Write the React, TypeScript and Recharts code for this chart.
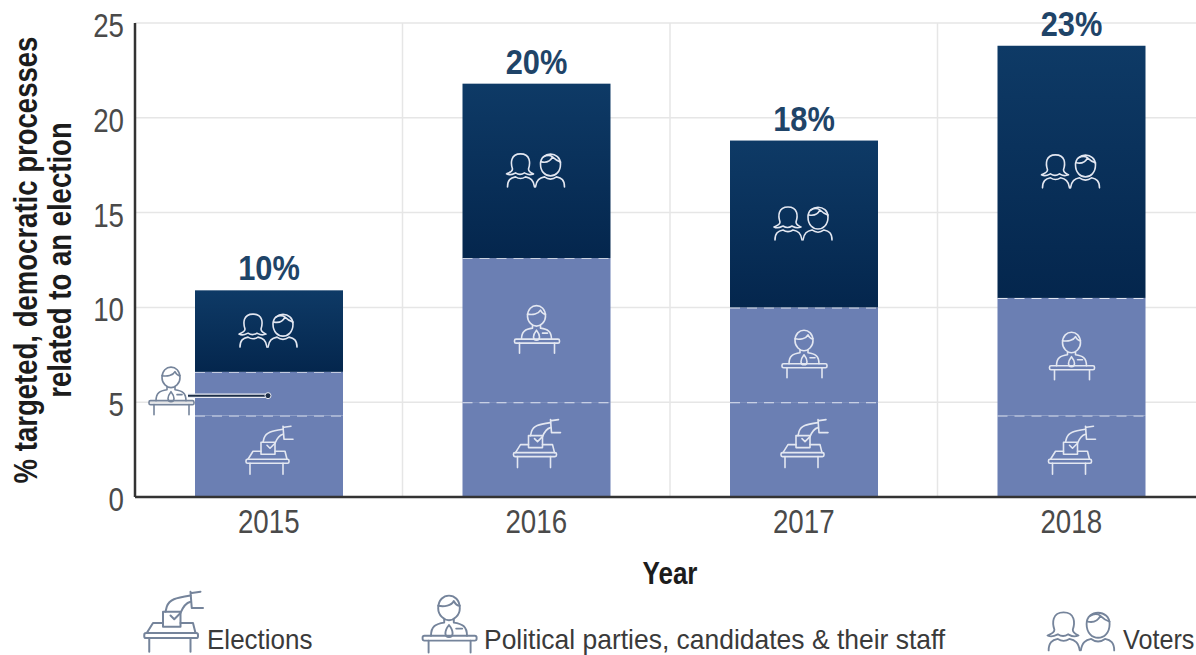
import React from "react";
import { BarChart, Bar, XAxis, YAxis, CartesianGrid, LabelList, Legend } from "recharts";

const years = ["2015", "2016", "2017", "2018"];
const elections = [4.3, 5, 5, 4.3];
const parties = [2.3, 7.6, 5, 6.2];
const voters = [4.3, 9.2, 8.8, 13.3];
const totals = ["10%", "20%", "18%", "23%"];
const yTicks = [0, 5, 10, 15, 20, 25];
const seriesNames = ["Elections", "Political parties, candidates & their staff", "Voters"];

const data = years.map((year, i) => ({
  year,
  elections: elections[i],
  parties: parties[i],
  voters: voters[i],
  total: totals[i],
}));

const FONT = "'Liberation Sans', Arial, sans-serif";
const NARROW = 0.84;
const LIGHT = "#6b7fb3";
const ICON_ON_BAR = "#e3e7f1";
const ICON_LEGEND = "#75849b";

type IconProps = { x: number; y: number; color: string; scale?: number };

function VotersIcon({ x, y, color, scale = 1 }: IconProps) {
  return (
    <g transform={`translate(${x},${y}) scale(${scale})`} fill="none" stroke={color} strokeWidth={1.6} strokeLinecap="round" strokeLinejoin="round">
      <path d="M-24,-2 C-26,-8 -26,-17 -16,-17 C-6,-17 -6,-8 -8,-2 C-8,1 -5,2 -3,3 C-8,5 -10,3 -12,2 C-15,4 -18,4 -21,2 C-23,3 -26,5 -30,3 C-28,2 -24,1 -24,-2 Z" />
      <path d="M-29,16 C-29,9 -26,7 -21,6 C-18,8 -14,8 -11,6 C-6,7 -3,9 -2,16" />
      <path d="M4,-7 C4,-20 24,-20 24,-7 C24,1 19,5 14,5 C9,5 4,1 4,-7 Z" />
      <path d="M5,-9 C10,-8 14,-10 16,-14 C19,-11 21,-10 24,-9 M7,-14 C10,-16 14,-16 16,-14" />
      <path d="M-1,16 C0,9 3,7 8,6 C12,9 16,9 20,6 C25,7 28,9 28,16" />
    </g>
  );
}

function PartyIcon({ x, y, color, scale = 1 }: IconProps) {
  return (
    <g transform={`translate(${x},${y}) scale(${scale})`} fill="none" stroke={color} strokeWidth={1.6} strokeLinecap="round" strokeLinejoin="round">
      <path d="M-9,-14 C-9,-28 9,-28 9,-14 C9,-8 4,-4 0,-4 C-4,-4 -9,-8 -9,-14 Z" />
      <path d="M-9,-16 C-4,-15 2,-16 4,-20 C5,-18 7,-16 9,-16" />
      <path d="M-4,-5 L-4,-2 C-11,-1 -15,1 -15,9 M4,-5 L4,-2 C11,-1 15,1 15,9" />
      <path d="M0,0 C-4,5 -4,10 0,10 C4,10 4,5 0,0 Z" />
      <path d="M6,3 L11,3" />
      <rect x={-22} y={9} width={45} height={4} rx={1.5} />
      <path d="M-17,13 L-17,23 M18,13 L18,23" />
    </g>
  );
}

function ElectionIcon({ x, y, color, scale = 1 }: IconProps) {
  return (
    <g transform={`translate(${x},${y}) scale(${scale})`} fill="none" stroke={color} strokeWidth={1.6} strokeLinecap="round" strokeLinejoin="round">
      <rect x={-23} y={8} width={43} height={4} rx={1.5} />
      <path d="M-21,8 L-16,0 L-8,0 M6,0 L16,0 L18,8" />
      <path d="M-19,12 L-19,23 M14,12 L14,23" />
      <path d="M-8,3 L-8,-9 L6,-9 L6,3 Z" />
      <path d="M-6,-9 L-5,-13 C-3,-19 2,-20 14,-22 M14,-17 C10,-16 8,-13 6,-8 L1,-3 L-2,-6" />
      <path d="M14,-25 L15,-12 M15,-24 L22,-25 M15,-12 L24,-12" />
    </g>
  );
}

function ElectionBar(props: any) {
  const { x, y, width, height } = props;
  const cx = x + width / 2;
  return (
    <g>
      <rect x={x} y={y} width={width} height={height} fill={LIGHT} />
      <line x1={x} x2={x + width} y1={y} y2={y} stroke="#dfe4f0" strokeWidth={2} strokeDasharray="10 7" />
      <ElectionIcon x={cx} y={y + height / 2 - 5} color={ICON_ON_BAR} />
    </g>
  );
}

function PartyBar(props: any) {
  const { x, y, width, height } = props;
  const cx = x + width / 2;
  const cy = y + height / 2;
  const fitsInside = height > 60;
  return (
    <g>
      <rect x={x} y={y} width={width} height={height} fill={LIGHT} />
      <line x1={x} x2={x + width} y1={y} y2={y} stroke="#dfe4f0" strokeWidth={2} strokeDasharray="10 7" />
      {fitsInside ? (
        <PartyIcon x={cx} y={cy} color={ICON_ON_BAR} />
      ) : (
        <g>
          <PartyIcon x={x - 24} y={cy - 2} color={ICON_LEGEND} />
          <line x1={x - 7} x2={cx} y1={cy + 2} y2={cy + 2} stroke="#e8ebf3" strokeWidth={4.5} />
          <line x1={x - 7} x2={cx} y1={cy + 2} y2={cy + 2} stroke="#1d2f48" strokeWidth={2} />
          <circle cx={cx - 1} cy={cy + 2} r={3} fill="#1d2f48" stroke="#e8ebf3" strokeWidth={1} />
        </g>
      )}
    </g>
  );
}

function VoterBar(props: any) {
  const { x, y, width, height } = props;
  return (
    <g>
      <rect x={x} y={y} width={width} height={height} fill="url(#voterFill)" />
      <VotersIcon x={x + width / 2} y={y + height / 2} color={ICON_ON_BAR} />
    </g>
  );
}

function NarrowText({ x, y, size, sx = NARROW, weight = 400, fill, anchor = "middle", children }: any) {
  return (
    <text
      transform={`translate(${x},${y}) scale(${sx},1)`}
      textAnchor={anchor}
      fontFamily={FONT}
      fontSize={size}
      fontWeight={weight}
      fill={fill}
    >
      {children}
    </text>
  );
}

function XTick({ x, payload }: any) {
  return <NarrowText x={x} y={533} size={33} fill="#4a4a4a">{payload.value}</NarrowText>;
}

function YTick({ x, y, payload }: any) {
  return <NarrowText x={124} y={y + 14} size={33} fill="#4a4a4a" anchor="end">{payload.value}</NarrowText>;
}

function TotalLabel({ x, y, width, value }: any) {
  return (
    <NarrowText x={x + width / 2} y={y - 10} size={35} sx={0.88} weight={700} fill="#1f4468">
      {value}
    </NarrowText>
  );
}

function LegendRow() {
  const size = 28;
  const fill = "#3a3a3a";
  return (
    <svg width={1196} height={65} style={{ display: "block", overflow: "visible" }}>
      <ElectionIcon x={173} y={33} color={ICON_LEGEND} scale={1.25} />
      <NarrowText x={207} y={59} size={size} sx={0.93} fill={fill} anchor="start">{seriesNames[0]}</NarrowText>
      <PartyIcon x={449} y={35} color={ICON_LEGEND} scale={1.2} />
      <NarrowText x={484} y={59} size={size} sx={0.945} fill={fill} anchor="start">{seriesNames[1]}</NarrowText>
      <VotersIcon x={1082} y={42} color={ICON_LEGEND} scale={1.15} />
      <NarrowText x={1123} y={59} size={size} sx={0.9} fill={fill} anchor="start">{seriesNames[2]}</NarrowText>
    </svg>
  );
}

const axisLine = { stroke: "#333333", strokeWidth: 2.5 };

export default function App() {
  return (
    <div style={{ position: "absolute", left: 0, top: 0, width: 1196, height: 655, overflow: "hidden", background: "#fff" }}>
      <BarChart
        width={1205}
        height={655}
        data={data}
        margin={{ top: 23, right: 0, bottom: 43, left: 75 }}
        barSize={148}
      >
        <defs>
          <linearGradient id="voterFill" x1="0" y1="0" x2="0" y2="1">
            <stop offset="0%" stopColor="#0e3a66" />
            <stop offset="100%" stopColor="#04264d" />
          </linearGradient>
        </defs>
        <CartesianGrid
          stroke="#e6e6e6"
          strokeWidth={1.5}
          verticalCoordinatesGenerator={({ offset }: any) =>
            years.map((_, i) => offset.left + (offset.width * (i + 1)) / years.length)
          }
        />
        <XAxis
          dataKey="year"
          height={50}
          axisLine={axisLine}
          tickLine={false}
          tick={XTick}
          interval={0}
          label={() => (
            <NarrowText x={670} y={584} size={31} weight={700} fill="#1c1c1c">Year</NarrowText>
          )}
        />
        <YAxis
          width={60}
          domain={[0, 25]}
          ticks={yTicks}
          axisLine={axisLine}
          tickLine={false}
          tick={YTick}
          label={() => (
            <text transform="translate(0,260) rotate(-90) scale(0.835,1)" textAnchor="middle" fontFamily={FONT} fontWeight={700} fontSize={33} fill="#1c1c1c">
              <tspan x={0} y={37}>% targeted, democratic processes</tspan>
              <tspan x={0} y={71}>related to an election</tspan>
            </text>
          )}
        />
        <Bar dataKey="elections" name={seriesNames[0]} stackId="a" isAnimationActive={false} shape={ElectionBar} />
        <Bar dataKey="parties" name={seriesNames[1]} stackId="a" isAnimationActive={false} shape={PartyBar} />
        <Bar dataKey="voters" name={seriesNames[2]} stackId="a" isAnimationActive={false} shape={VoterBar}>
          <LabelList dataKey="total" content={TotalLabel} />
        </Bar>
        <Legend
          content={() => <LegendRow />}
          wrapperStyle={{ position: "absolute", left: 0, top: 590, width: 1196, height: 65 }}
        />
      </BarChart>
    </div>
  );
}
